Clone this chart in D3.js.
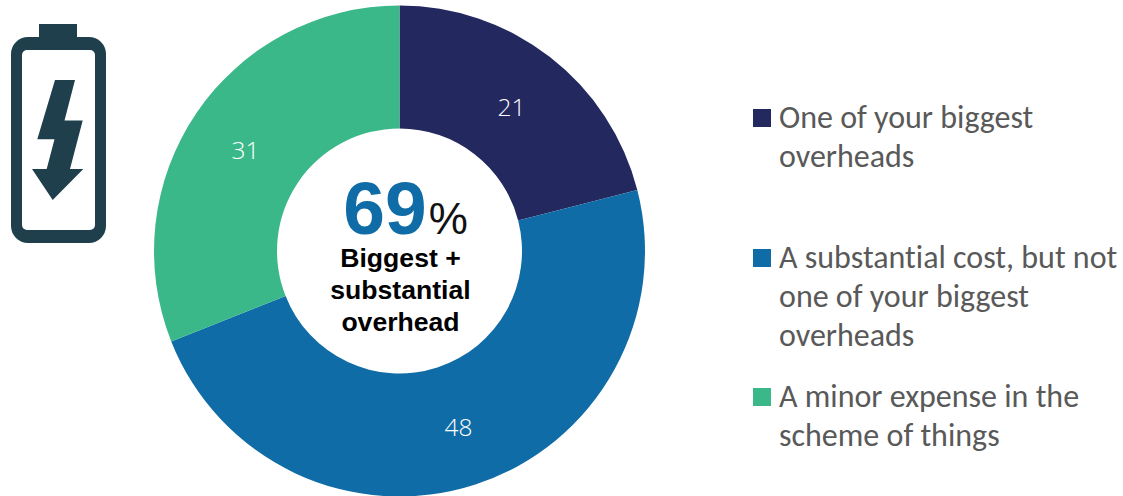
<!DOCTYPE html>
<html>
<head>
<meta charset="utf-8">
<script src="https://cdn.jsdelivr.net/npm/d3@7/dist/d3.min.js"></script>
<style>
html,body{margin:0;padding:0;background:#fff;overflow:hidden}
svg{display:block}
</style>
</head>
<body>
<svg id="chart" width="1123" height="496"></svg>
<script>
const categories = ["One of your biggest overheads", "A substantial cost, but not one of your biggest overheads", "A minor expense in the scheme of things"];
const values = [21, 48, 31];
const colors = ["#23285f", "#0f6ca6", "#3bb88a"];
const legendLines = [["One of your biggest", "overheads"], ["A substantial cost, but not", "one of your biggest", "overheads"], ["A minor expense in the", "scheme of things"]];
const legendTops = [118, 258, 397];
const labelPositions = [[511.5, 106], [458.5, 426], [245.5, 149]];
const boltShape = [[55,80],[75,80],[64.5,120.5],[82.7,120.5],[70,169],[83.3,169],[52.7,200],[32,169],[46.7,169],[54.5,139.3],[37.3,139.3]];

const svg = d3.select("#chart");
const cx = 399.5, cy = 251, outerR = 245.5, innerR = 122.5;
const legendFont = "Carlito, 'Open Sans', 'Noto Sans', sans-serif";
const boldFont = "'Liberation Sans', Arial, sans-serif";

// Donut ring, clockwise from twelve o'clock
const pie = d3.pie().sort(null)(values);
const arc = d3.arc().innerRadius(innerR).outerRadius(outerR);
const ring = svg.append("g").attr("transform", `translate(${cx},${cy})`);
ring.selectAll("path").data(pie).join("path")
  .attr("d", arc)
  .attr("fill", (d, i) => colors[i]);

// Slice values
svg.append("g").selectAll("text").data(values).join("text")
  .attr("x", (d, i) => labelPositions[i][0])
  .attr("y", (d, i) => labelPositions[i][1])
  .attr("text-anchor", "middle")
  .attr("dominant-baseline", "central")
  .attr("font-family", "'Open Sans', 'Noto Sans', sans-serif")
  .attr("font-weight", 300)
  .attr("font-size", 24.5)
  .attr("fill", "#fff")
  .text(d => d);

// Headline in the hole: sum of the two largest-overhead answers
const total = values[0] + values[1];
const head = svg.append("text").attr("x", 405.5).attr("y", 234)
  .attr("text-anchor", "middle").attr("font-family", boldFont);
head.append("tspan").attr("font-size", 75).attr("font-weight", 700).attr("fill", colors[1]).text(total);
head.append("tspan").attr("font-size", 44).attr("fill", "#111").attr("dx", 2).text("%");

svg.append("g").selectAll("text").data(["Biggest +", "substantial", "overhead"]).join("text")
  .attr("x", 400.5)
  .attr("y", (d, i) => 267 + i * 32)
  .attr("text-anchor", "middle")
  .attr("font-family", boldFont)
  .attr("font-size", 26.6)
  .attr("font-weight", 700)
  .attr("fill", "#000")
  .text(d => d);

// Legend
const legend = svg.append("g").selectAll("g").data(categories).join("g");
legend.append("rect")
  .attr("x", 753)
  .attr("y", (d, i) => legendTops[i] - 9)
  .attr("width", 18).attr("height", 18)
  .attr("fill", (d, i) => colors[i]);
legend.each(function(d, i) {
  d3.select(this).selectAll("text").data(legendLines[i]).join("text")
    .attr("x", 779)
    .attr("y", (l, j) => legendTops[i] + 10 + j * 39)
    .attr("font-family", legendFont)
    .attr("font-size", 32)
    .attr("fill", "#595959")
    .style("font-variant-ligatures", "none")
    .text(l => l);
});

// Battery pictogram
const icon = svg.append("g").attr("fill", "#1f3f4d");
icon.append("rect").attr("x", 39).attr("y", 24).attr("width", 38).attr("height", 16);
icon.append("rect").attr("x", 11).attr("y", 37).attr("width", 95).attr("height", 206).attr("rx", 17);
icon.append("rect").attr("x", 22).attr("y", 50).attr("width", 73).attr("height", 180).attr("rx", 5).attr("fill", "#fff");
icon.append("path").attr("d", d3.line()(boltShape) + "Z");
</script>
</body>
</html>
